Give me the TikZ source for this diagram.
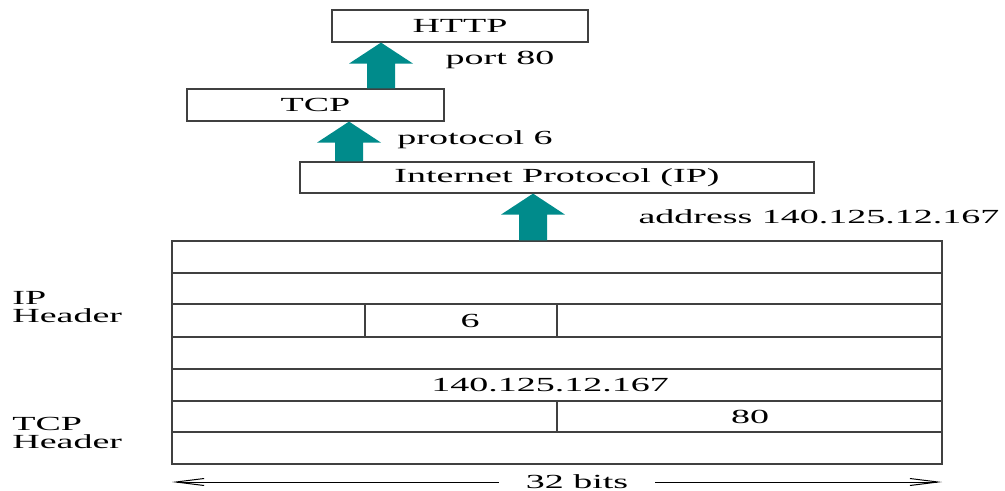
\documentclass[tikz,border=0pt]{standalone}
\usepackage{fontspec}
\setmainfont{Liberation Serif}[FakeStretch=1.9]
\usepackage{xcolor}
\usetikzlibrary{arrows.meta,calc}
\definecolor{arrowteal}{RGB}{0,139,139}

\begin{document}
\begin{tikzpicture}[x=0.5pt, y=-0.5pt, font=\fontsize{10pt}{9pt}\selectfont,
  layerbox/.style={draw=black!75, line width=0.6pt, minimum height=16pt, inner sep=0pt},
  uparrow/.style={fill=arrowteal, to path={let \p1=(\tikztostart), \p2=(\tikztotarget) in
    (\x1-7pt,\y1) -- (\x1-7pt,\y2-10.5pt) -- (\x1-16pt,\y2-10.5pt) -- (\x1,\y2)
    -- (\x1+16pt,\y2-10.5pt) -- (\x1+7pt,\y2-10.5pt) -- (\x1+7pt,\y1) -- cycle}},
  rowline/.style={draw=black!75, line width=0.6pt},
  span/.style={line width=0.5pt, {Straight Barb[length=14pt,width=3.5pt]}-{Straight Barb[length=14pt,width=3.5pt]}}]
\useasboundingbox (0,0) rectangle (1005,491);

\node [layerbox, minimum width=128pt] (http) at (460,26) {HTTP};
\node [layerbox, minimum width=128.5pt] (tcp) at (315.5,105) {TCP};
\node [layerbox, minimum width=257pt, minimum height=15.5pt] (ip) at (557,177.5) {Internet Protocol (IP)};
\node [layerbox, minimum width=385pt, minimum height=111.5pt] (pkt) at (557,352.5) {};

\foreach \y in {273,304,337,369,401,432}
  \draw [rowline] (pkt.west |- 0,\y) -- (pkt.east |- 0,\y);
\draw [rowline] (365,304) -- (365,337);
\draw [rowline] (557,304) -- (557,337);
\draw [rowline] (557,401) -- (557,432);

\node (six) at (470,320.5) {6};
\node (addr) at (550,385) {140.125.12.167};
\node (dport) at (750,416.5) {80};

\node (port) at (500,60) {port 80};
\node (proto) at (475,140) {protocol 6};
\node (ipaddr) at (819,217) {address 140.125.12.167};

\node [anchor=west, align=left, inner sep=0pt] (iphdr) at (12,307) {IP\\Header};
\node [anchor=west, align=left, inner sep=0pt] (tcphdr) at (12,433) {TCP\\Header};

\coordinate (a1) at (381,0);
\coordinate (a2) at (349,0);
\coordinate (a3) at (533,0);
\path [uparrow] (tcp.north -| a1) to (http.south -| a1);
\path [uparrow] (ip.north -| a2) to (tcp.south -| a2);
\path [uparrow] (pkt.north -| a3) to (ip.south -| a3);

\coordinate (wl) at (172,482);
\coordinate (wr) at (942,482);
\draw [span] (wl) -- (wr) node [pos=.526, fill=white, inner xsep=13.5pt] (bits) {32 bits};
\end{tikzpicture}
\end{document}
